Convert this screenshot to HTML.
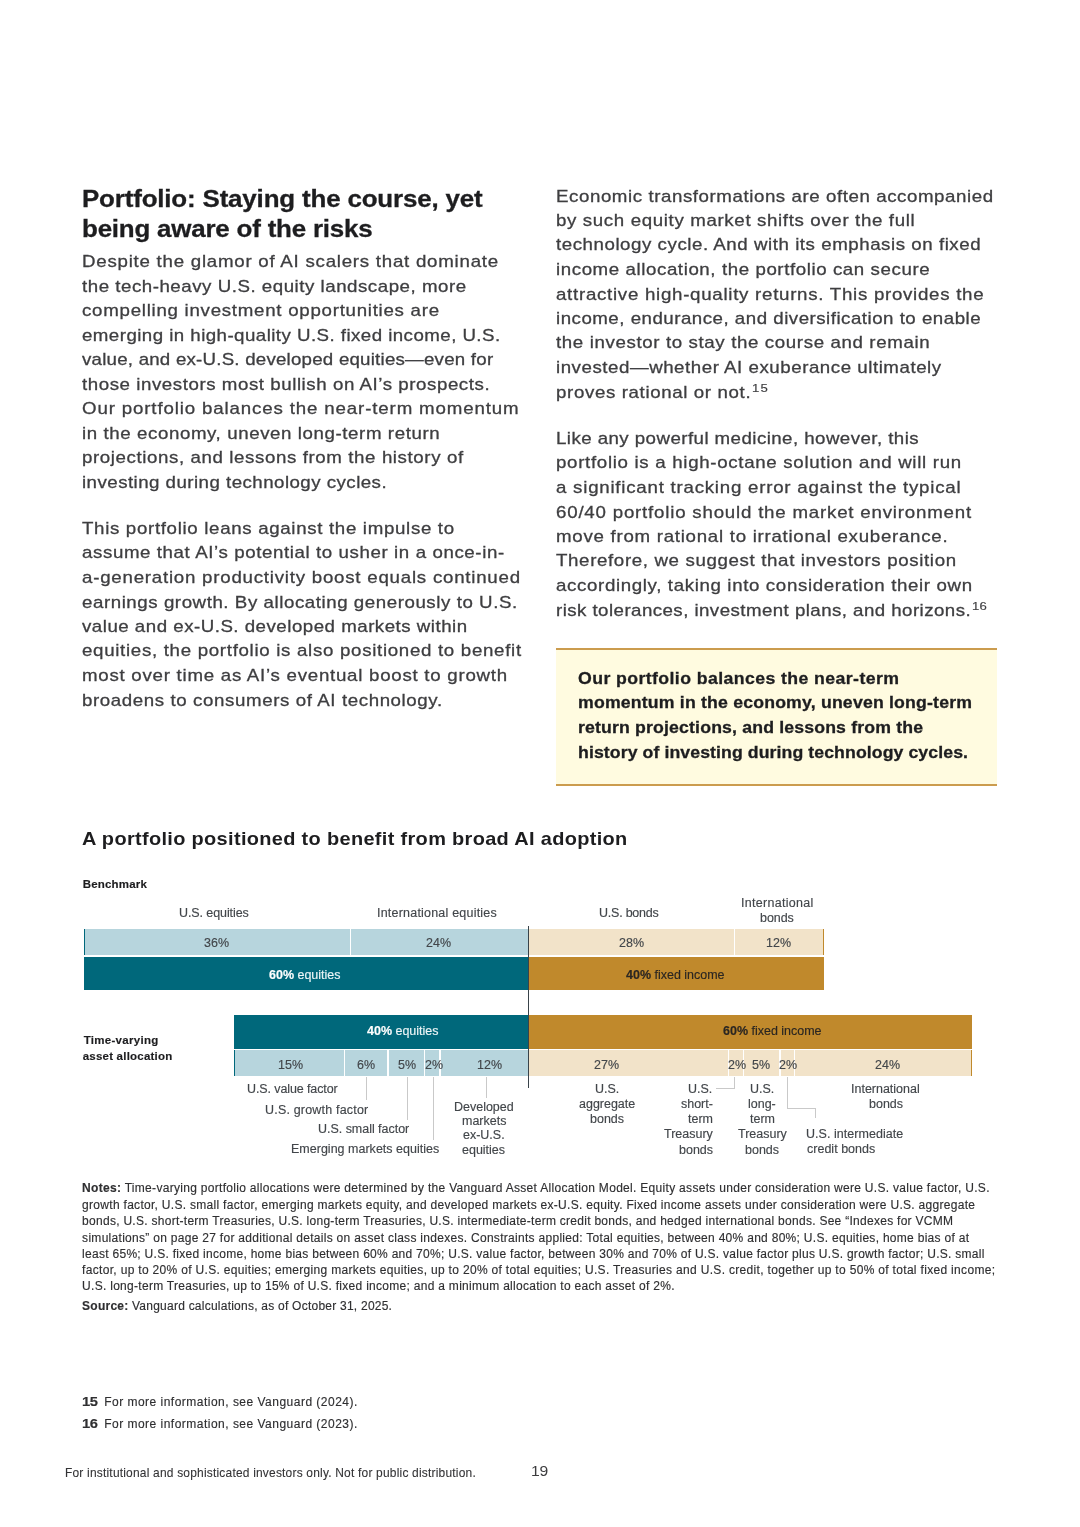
<!DOCTYPE html>
<html lang="en"><head><meta charset="utf-8"><title>Portfolio</title><style>
html,body{margin:0;padding:0;background:#fff}
body{width:1080px;height:1527px;position:relative;overflow:hidden;font-family:"Liberation Sans", sans-serif}
.t{position:absolute;white-space:pre;margin:0;padding:0;transform-origin:0 0}
#pg{position:absolute;left:0;top:0;width:1080px;height:1527px;will-change:transform}
.r{position:absolute}
b{font-weight:700}
.lt{color:#e4f1f3}
</style></head><body><div id="pg">
<div class="r" style="left:556px;top:649px;width:441px;height:135.6px;background:#fffbe0"></div>
<div class="r" style="left:556px;top:648.2px;width:441px;height:1.7px;background:#cb9c4e"></div>
<div class="r" style="left:556px;top:784.0px;width:441px;height:1.7px;background:#cb9c4e"></div>
<div class="r" style="left:83.5px;top:929px;width:266.1px;height:26px;background:#b7d5dd"></div>
<div class="r" style="left:351px;top:929px;width:177.5px;height:26px;background:#b7d5dd"></div>
<div class="r" style="left:83.5px;top:929px;width:1.2px;height:26px;background:#00687b"></div>
<div class="r" style="left:528.5px;top:929px;width:205.5px;height:26px;background:#f2e3c9"></div>
<div class="r" style="left:735.4px;top:929px;width:88.1px;height:26px;background:#f2e3c9"></div>
<div class="r" style="left:822.5px;top:929px;width:1.2px;height:26px;background:#c0892c"></div>
<div class="r" style="left:83.5px;top:956.6px;width:445.0px;height:33.9px;background:#00687b"></div>
<div class="r" style="left:528.5px;top:956.6px;width:295.0px;height:33.9px;background:#c0892c"></div>
<div class="r" style="left:233.5px;top:1014.6px;width:295.0px;height:34.1px;background:#00687b"></div>
<div class="r" style="left:528.5px;top:1014.6px;width:443.5px;height:34.1px;background:#c0892c"></div>
<div class="r" style="left:233.5px;top:1049.8px;width:110.3px;height:26.1px;background:#b7d5dd"></div>
<div class="r" style="left:345.2px;top:1049.8px;width:42.1px;height:26.1px;background:#b7d5dd"></div>
<div class="r" style="left:388.7px;top:1049.8px;width:35.1px;height:26.1px;background:#b7d5dd"></div>
<div class="r" style="left:425.2px;top:1049.8px;width:14.1px;height:26.1px;background:#b7d5dd"></div>
<div class="r" style="left:440.7px;top:1049.8px;width:87.8px;height:26.1px;background:#b7d5dd"></div>
<div class="r" style="left:233.5px;top:1049.8px;width:1.2px;height:26.1px;background:#00687b"></div>
<div class="r" style="left:528.5px;top:1049.8px;width:199.5px;height:26.1px;background:#f2e3c9"></div>
<div class="r" style="left:729.4px;top:1049.8px;width:13.2px;height:26.1px;background:#f2e3c9"></div>
<div class="r" style="left:744.0px;top:1049.8px;width:35.3px;height:26.1px;background:#f2e3c9"></div>
<div class="r" style="left:780.7px;top:1049.8px;width:13.3px;height:26.1px;background:#f2e3c9"></div>
<div class="r" style="left:795.4px;top:1049.8px;width:176.6px;height:26.1px;background:#f2e3c9"></div>
<div class="r" style="left:971px;top:1049.8px;width:1.2px;height:26.1px;background:#c0892c"></div>
<div class="r" style="left:527.9px;top:925.6px;width:1.0px;height:162.6px;background:#39434a"></div>
<div class="r" style="left:366.0px;top:1077px;width:1.0px;height:23px;background:#c9c9c9"></div>
<div class="r" style="left:407.0px;top:1077px;width:1.0px;height:43px;background:#c9c9c9"></div>
<div class="r" style="left:432.5px;top:1077px;width:1.0px;height:63px;background:#c9c9c9"></div>
<div class="r" style="left:486.0px;top:1077px;width:1.0px;height:21px;background:#c9c9c9"></div>
<div class="r" style="left:733.5px;top:1077px;width:1.0px;height:12px;background:#c9c9c9"></div>
<div class="r" style="left:716px;top:1088.0px;width:18.5px;height:1.0px;background:#c9c9c9"></div>
<div class="r" style="left:787.3px;top:1077px;width:1.0px;height:31.5px;background:#c9c9c9"></div>
<div class="r" style="left:787.3px;top:1107.5px;width:28.2px;height:1.0px;background:#c9c9c9"></div>
<div class="r" style="left:814.5px;top:1108px;width:1.0px;height:10px;background:#c9c9c9"></div>
<div class="t" style="left:82.19px;top:183px;font-size:24px;line-height:31px;color:#1d1d1f;font-weight:700;letter-spacing:-0.155px;-webkit-text-stroke:0.3px #1d1d1f;transform:scaleX(1.0800);">Portfolio: Staying the course, yet</div>
<div class="t" style="left:82.19px;top:213px;font-size:24px;line-height:31px;color:#1d1d1f;font-weight:700;letter-spacing:-0.188px;-webkit-text-stroke:0.3px #1d1d1f;transform:scaleX(1.0800);">being aware of the risks</div>
<div class="t" style="left:82.00px;top:251px;font-size:17px;line-height:22px;color:#3e3e40;letter-spacing:0.679px;-webkit-text-stroke:0.3px #3e3e40;transform:scaleX(1.1000);">Despite the glamor of AI scalers that dominate</div>
<div class="t" style="left:82.00px;top:276px;font-size:17px;line-height:22px;color:#3e3e40;letter-spacing:0.473px;-webkit-text-stroke:0.3px #3e3e40;transform:scaleX(1.1000);">the tech-heavy U.S. equity landscape, more</div>
<div class="t" style="left:82.00px;top:300px;font-size:17px;line-height:22px;color:#3e3e40;letter-spacing:0.660px;-webkit-text-stroke:0.3px #3e3e40;transform:scaleX(1.1000);">compelling investment opportunities are</div>
<div class="t" style="left:82.00px;top:325px;font-size:17px;line-height:22px;color:#3e3e40;letter-spacing:0.408px;-webkit-text-stroke:0.3px #3e3e40;transform:scaleX(1.1000);">emerging in high-quality U.S. fixed income, U.S.</div>
<div class="t" style="left:82.00px;top:349px;font-size:17px;line-height:22px;color:#3e3e40;letter-spacing:0.199px;-webkit-text-stroke:0.3px #3e3e40;transform:scaleX(1.1000);">value, and ex-U.S. developed equities—even for</div>
<div class="t" style="left:82.00px;top:374px;font-size:17px;line-height:22px;color:#3e3e40;letter-spacing:0.503px;-webkit-text-stroke:0.3px #3e3e40;transform:scaleX(1.1000);">those investors most bullish on AI’s prospects.</div>
<div class="t" style="left:82.00px;top:398px;font-size:17px;line-height:22px;color:#3e3e40;letter-spacing:0.775px;-webkit-text-stroke:0.3px #3e3e40;transform:scaleX(1.1000);">Our portfolio balances the near-term momentum</div>
<div class="t" style="left:82.00px;top:423px;font-size:17px;line-height:22px;color:#3e3e40;letter-spacing:0.532px;-webkit-text-stroke:0.3px #3e3e40;transform:scaleX(1.1000);">in the economy, uneven long-term return</div>
<div class="t" style="left:82.00px;top:447px;font-size:17px;line-height:22px;color:#3e3e40;letter-spacing:0.542px;-webkit-text-stroke:0.3px #3e3e40;transform:scaleX(1.1000);">projections, and lessons from the history of</div>
<div class="t" style="left:82.00px;top:472px;font-size:17px;line-height:22px;color:#3e3e40;letter-spacing:0.418px;-webkit-text-stroke:0.3px #3e3e40;transform:scaleX(1.1000);">investing during technology cycles.</div>
<div class="t" style="left:82.00px;top:518px;font-size:17px;line-height:22px;color:#3e3e40;letter-spacing:0.607px;-webkit-text-stroke:0.3px #3e3e40;transform:scaleX(1.1000);">This portfolio leans against the impulse to</div>
<div class="t" style="left:82.00px;top:542px;font-size:17px;line-height:22px;color:#3e3e40;letter-spacing:0.540px;-webkit-text-stroke:0.3px #3e3e40;transform:scaleX(1.1000);">assume that AI’s potential to usher in a once-in-</div>
<div class="t" style="left:82.00px;top:567px;font-size:17px;line-height:22px;color:#3e3e40;letter-spacing:0.692px;-webkit-text-stroke:0.3px #3e3e40;transform:scaleX(1.1000);">a-generation productivity boost equals continued</div>
<div class="t" style="left:82.00px;top:592px;font-size:17px;line-height:22px;color:#3e3e40;letter-spacing:0.504px;-webkit-text-stroke:0.3px #3e3e40;transform:scaleX(1.1000);">earnings growth. By allocating generously to U.S.</div>
<div class="t" style="left:82.00px;top:616px;font-size:17px;line-height:22px;color:#3e3e40;letter-spacing:0.449px;-webkit-text-stroke:0.3px #3e3e40;transform:scaleX(1.1000);">value and ex-U.S. developed markets within</div>
<div class="t" style="left:82.00px;top:640px;font-size:17px;line-height:22px;color:#3e3e40;letter-spacing:0.625px;-webkit-text-stroke:0.3px #3e3e40;transform:scaleX(1.1000);">equities, the portfolio is also positioned to benefit</div>
<div class="t" style="left:82.00px;top:665px;font-size:17px;line-height:22px;color:#3e3e40;letter-spacing:0.664px;-webkit-text-stroke:0.3px #3e3e40;transform:scaleX(1.1000);">most over time as AI’s eventual boost to growth</div>
<div class="t" style="left:82.00px;top:690px;font-size:17px;line-height:22px;color:#3e3e40;letter-spacing:0.541px;-webkit-text-stroke:0.3px #3e3e40;transform:scaleX(1.1000);">broadens to consumers of AI technology.</div>
<div class="t" style="left:555.60px;top:186px;font-size:17px;line-height:22px;color:#3e3e40;letter-spacing:0.515px;-webkit-text-stroke:0.3px #3e3e40;transform:scaleX(1.1000);">Economic transformations are often accompanied</div>
<div class="t" style="left:555.60px;top:210px;font-size:17px;line-height:22px;color:#3e3e40;letter-spacing:0.577px;-webkit-text-stroke:0.3px #3e3e40;transform:scaleX(1.1000);">by such equity market shifts over the full</div>
<div class="t" style="left:555.60px;top:234px;font-size:17px;line-height:22px;color:#3e3e40;letter-spacing:0.492px;-webkit-text-stroke:0.3px #3e3e40;transform:scaleX(1.1000);">technology cycle. And with its emphasis on fixed</div>
<div class="t" style="left:555.60px;top:259px;font-size:17px;line-height:22px;color:#3e3e40;letter-spacing:0.527px;-webkit-text-stroke:0.3px #3e3e40;transform:scaleX(1.1000);">income allocation, the portfolio can secure</div>
<div class="t" style="left:555.60px;top:284px;font-size:17px;line-height:22px;color:#3e3e40;letter-spacing:0.651px;-webkit-text-stroke:0.3px #3e3e40;transform:scaleX(1.1000);">attractive high-quality returns. This provides the</div>
<div class="t" style="left:555.60px;top:308px;font-size:17px;line-height:22px;color:#3e3e40;letter-spacing:0.451px;-webkit-text-stroke:0.3px #3e3e40;transform:scaleX(1.1000);">income, endurance, and diversification to enable</div>
<div class="t" style="left:555.60px;top:332px;font-size:17px;line-height:22px;color:#3e3e40;letter-spacing:0.563px;-webkit-text-stroke:0.3px #3e3e40;transform:scaleX(1.1000);">the investor to stay the course and remain</div>
<div class="t" style="left:555.60px;top:357px;font-size:17px;line-height:22px;color:#3e3e40;letter-spacing:0.484px;-webkit-text-stroke:0.3px #3e3e40;transform:scaleX(1.1000);">invested—whether AI exuberance ultimately</div>
<div class="t" style="left:555.60px;top:382px;font-size:17px;line-height:22px;color:#3e3e40;letter-spacing:0.568px;-webkit-text-stroke:0.3px #3e3e40;transform:scaleX(1.1000);">proves rational or not.</div>
<div class="t" style="left:555.60px;top:428px;font-size:17px;line-height:22px;color:#3e3e40;letter-spacing:0.398px;-webkit-text-stroke:0.3px #3e3e40;transform:scaleX(1.1000);">Like any powerful medicine, however, this</div>
<div class="t" style="left:555.60px;top:452px;font-size:17px;line-height:22px;color:#3e3e40;letter-spacing:0.618px;-webkit-text-stroke:0.3px #3e3e40;transform:scaleX(1.1000);">portfolio is a high-octane solution and will run</div>
<div class="t" style="left:555.60px;top:477px;font-size:17px;line-height:22px;color:#3e3e40;letter-spacing:0.689px;-webkit-text-stroke:0.3px #3e3e40;transform:scaleX(1.1000);">a significant tracking error against the typical</div>
<div class="t" style="left:555.60px;top:502px;font-size:17px;line-height:22px;color:#3e3e40;letter-spacing:0.716px;-webkit-text-stroke:0.3px #3e3e40;transform:scaleX(1.1000);">60/40 portfolio should the market environment</div>
<div class="t" style="left:555.60px;top:526px;font-size:17px;line-height:22px;color:#3e3e40;letter-spacing:0.654px;-webkit-text-stroke:0.3px #3e3e40;transform:scaleX(1.1000);">move from rational to irrational exuberance.</div>
<div class="t" style="left:555.60px;top:550px;font-size:17px;line-height:22px;color:#3e3e40;letter-spacing:0.578px;-webkit-text-stroke:0.3px #3e3e40;transform:scaleX(1.1000);">Therefore, we suggest that investors position</div>
<div class="t" style="left:555.60px;top:575px;font-size:17px;line-height:22px;color:#3e3e40;letter-spacing:0.576px;-webkit-text-stroke:0.3px #3e3e40;transform:scaleX(1.1000);">accordingly, taking into consideration their own</div>
<div class="t" style="left:555.60px;top:600px;font-size:17px;line-height:22px;color:#3e3e40;letter-spacing:0.400px;-webkit-text-stroke:0.3px #3e3e40;transform:scaleX(1.1000);">risk tolerances, investment plans, and horizons.</div>
<div class="t" style="left:751.58px;top:381px;font-size:10.5px;line-height:14px;color:#3e3e40;letter-spacing:0.982px;-webkit-text-stroke:0.15px #3e3e40;transform:scaleX(1.2500);">15</div>
<div class="t" style="left:971.58px;top:599px;font-size:10.5px;line-height:14px;color:#3e3e40;letter-spacing:0.183px;-webkit-text-stroke:0.15px #3e3e40;transform:scaleX(1.2500);">16</div>
<div class="t" style="left:577.80px;top:668px;font-size:17px;line-height:22px;color:#1d1d1f;font-weight:700;letter-spacing:0.397px;-webkit-text-stroke:0.3px #1d1d1f;transform:scaleX(1.0400);">Our portfolio balances the near-term</div>
<div class="t" style="left:577.80px;top:692px;font-size:17px;line-height:22px;color:#1d1d1f;font-weight:700;letter-spacing:0.174px;-webkit-text-stroke:0.3px #1d1d1f;transform:scaleX(1.0400);">momentum in the economy, uneven long-term</div>
<div class="t" style="left:577.80px;top:717px;font-size:17px;line-height:22px;color:#1d1d1f;font-weight:700;letter-spacing:0.149px;-webkit-text-stroke:0.3px #1d1d1f;transform:scaleX(1.0400);">return projections, and lessons from the</div>
<div class="t" style="left:577.80px;top:742px;font-size:17px;line-height:22px;color:#1d1d1f;font-weight:700;letter-spacing:0.083px;-webkit-text-stroke:0.3px #1d1d1f;transform:scaleX(1.0400);">history of investing during technology cycles.</div>
<div class="t" style="left:82.10px;top:826px;font-size:19px;line-height:25px;color:#1d1d1f;font-weight:700;letter-spacing:0.314px;transform:scaleX(1.0500);">A portfolio positioned to benefit from broad AI adoption</div>
<div class="t" style="left:82.69px;top:877px;font-size:11.5px;line-height:15px;color:#1d1d1f;font-weight:700;letter-spacing:0.184px;-webkit-text-stroke:0.15px #1d1d1f;">Benchmark</div>
<div class="t" style="left:178.63px;top:905px;font-size:12px;line-height:16px;color:#42464a;letter-spacing:-0.082px;-webkit-text-stroke:0.15px #42464a;transform:scaleX(1.0400);">U.S. equities</div>
<div class="t" style="left:376.63px;top:905px;font-size:12px;line-height:16px;color:#42464a;letter-spacing:0.209px;-webkit-text-stroke:0.15px #42464a;transform:scaleX(1.0400);">International equities</div>
<div class="t" style="left:599.13px;top:905px;font-size:12px;line-height:16px;color:#42464a;letter-spacing:-0.214px;-webkit-text-stroke:0.15px #42464a;transform:scaleX(1.0400);">U.S. bonds</div>
<div class="t" style="left:741.13px;top:895px;font-size:12px;line-height:16px;color:#42464a;letter-spacing:0.285px;-webkit-text-stroke:0.15px #42464a;transform:scaleX(1.0400);">International</div>
<div class="t" style="left:760.13px;top:910px;font-size:12px;line-height:16px;color:#42464a;letter-spacing:-0.063px;-webkit-text-stroke:0.15px #42464a;transform:scaleX(1.0400);">bonds</div>
<div class="t" style="left:204.00px;top:935px;font-size:12px;line-height:16px;color:#42464a;-webkit-text-stroke:0.15px #42464a;transform:scaleX(1.0400);">36%</div>
<div class="t" style="left:426.00px;top:935px;font-size:12px;line-height:16px;color:#42464a;-webkit-text-stroke:0.15px #42464a;transform:scaleX(1.0400);">24%</div>
<div class="t" style="left:618.50px;top:935px;font-size:12px;line-height:16px;color:#42464a;-webkit-text-stroke:0.15px #42464a;transform:scaleX(1.0400);">28%</div>
<div class="t" style="left:766.20px;top:935px;font-size:12px;line-height:16px;color:#42464a;-webkit-text-stroke:0.15px #42464a;transform:scaleX(1.0400);">12%</div>
<div class="t" style="left:269.46px;top:967px;font-size:12px;line-height:16px;color:#ffffff;-webkit-text-stroke:0.15px #ffffff;transform:scaleX(1.0400);"><b>60%</b><span class="lt"> equities</span></div>
<div class="t" style="left:626.24px;top:967px;font-size:12px;line-height:16px;color:#2a2622;-webkit-text-stroke:0.15px #2a2622;transform:scaleX(1.0400);"><b>40%</b> fixed income</div>
<div class="t" style="left:367.06px;top:1023px;font-size:12px;line-height:16px;color:#ffffff;-webkit-text-stroke:0.15px #ffffff;transform:scaleX(1.0400);"><b>40%</b><span class="lt"> equities</span></div>
<div class="t" style="left:723.24px;top:1023px;font-size:12px;line-height:16px;color:#2a2622;-webkit-text-stroke:0.15px #2a2622;transform:scaleX(1.0400);"><b>60%</b> fixed income</div>
<div class="t" style="left:83.69px;top:1033px;font-size:11.5px;line-height:15px;color:#1d1d1f;font-weight:700;letter-spacing:0.294px;-webkit-text-stroke:0.15px #1d1d1f;">Time-varying</div>
<div class="t" style="left:82.69px;top:1049px;font-size:11.5px;line-height:15px;color:#1d1d1f;font-weight:700;letter-spacing:0.221px;-webkit-text-stroke:0.15px #1d1d1f;">asset allocation</div>
<div class="t" style="left:277.80px;top:1057px;font-size:12px;line-height:16px;color:#42464a;-webkit-text-stroke:0.15px #42464a;transform:scaleX(1.0400);">15%</div>
<div class="t" style="left:357.28px;top:1057px;font-size:12px;line-height:16px;color:#42464a;-webkit-text-stroke:0.15px #42464a;transform:scaleX(1.0400);">6%</div>
<div class="t" style="left:397.98px;top:1057px;font-size:12px;line-height:16px;color:#42464a;-webkit-text-stroke:0.15px #42464a;transform:scaleX(1.0400);">5%</div>
<div class="t" style="left:424.78px;top:1057px;font-size:12px;line-height:16px;color:#42464a;-webkit-text-stroke:0.15px #42464a;transform:scaleX(1.0400);">2%</div>
<div class="t" style="left:476.50px;top:1057px;font-size:12px;line-height:16px;color:#42464a;-webkit-text-stroke:0.15px #42464a;transform:scaleX(1.0400);">12%</div>
<div class="t" style="left:594.30px;top:1057px;font-size:12px;line-height:16px;color:#42464a;-webkit-text-stroke:0.15px #42464a;transform:scaleX(1.0400);">27%</div>
<div class="t" style="left:727.98px;top:1057px;font-size:12px;line-height:16px;color:#42464a;-webkit-text-stroke:0.15px #42464a;transform:scaleX(1.0400);">2%</div>
<div class="t" style="left:752.48px;top:1057px;font-size:12px;line-height:16px;color:#42464a;-webkit-text-stroke:0.15px #42464a;transform:scaleX(1.0400);">5%</div>
<div class="t" style="left:779.48px;top:1057px;font-size:12px;line-height:16px;color:#42464a;-webkit-text-stroke:0.15px #42464a;transform:scaleX(1.0400);">2%</div>
<div class="t" style="left:875.30px;top:1057px;font-size:12px;line-height:16px;color:#42464a;-webkit-text-stroke:0.15px #42464a;transform:scaleX(1.0400);">24%</div>
<div class="t" style="left:246.63px;top:1081px;font-size:12px;line-height:16px;color:#42464a;letter-spacing:-0.091px;-webkit-text-stroke:0.15px #42464a;transform:scaleX(1.0400);">U.S. value factor</div>
<div class="t" style="left:265.13px;top:1102px;font-size:12px;line-height:16px;color:#42464a;letter-spacing:0.190px;-webkit-text-stroke:0.15px #42464a;transform:scaleX(1.0400);">U.S. growth factor</div>
<div class="t" style="left:317.63px;top:1121px;font-size:12px;line-height:16px;color:#42464a;letter-spacing:-0.018px;-webkit-text-stroke:0.15px #42464a;transform:scaleX(1.0400);">U.S. small factor</div>
<div class="t" style="left:290.63px;top:1141px;font-size:12px;line-height:16px;color:#42464a;letter-spacing:0.020px;-webkit-text-stroke:0.15px #42464a;transform:scaleX(1.0400);">Emerging markets equities</div>
<div class="t" style="left:453.97px;top:1099px;font-size:12px;line-height:16px;color:#42464a;-webkit-text-stroke:0.15px #42464a;transform:scaleX(1.0400);">Developed</div>
<div class="t" style="left:461.60px;top:1113px;font-size:12px;line-height:16px;color:#42464a;-webkit-text-stroke:0.15px #42464a;transform:scaleX(1.0400);">markets</div>
<div class="t" style="left:462.99px;top:1127px;font-size:12px;line-height:16px;color:#42464a;-webkit-text-stroke:0.15px #42464a;transform:scaleX(1.0400);">ex-U.S.</div>
<div class="t" style="left:462.29px;top:1142px;font-size:12px;line-height:16px;color:#42464a;-webkit-text-stroke:0.15px #42464a;transform:scaleX(1.0400);">equities</div>
<div class="t" style="left:594.66px;top:1081px;font-size:12px;line-height:16px;color:#42464a;-webkit-text-stroke:0.15px #42464a;transform:scaleX(1.0400);">U.S.</div>
<div class="t" style="left:578.70px;top:1096px;font-size:12px;line-height:16px;color:#42464a;-webkit-text-stroke:0.15px #42464a;transform:scaleX(1.0400);">aggregate</div>
<div class="t" style="left:589.79px;top:1111px;font-size:12px;line-height:16px;color:#42464a;-webkit-text-stroke:0.15px #42464a;transform:scaleX(1.0400);">bonds</div>
<div class="t" style="left:688.32px;top:1081px;font-size:12px;line-height:16px;color:#42464a;-webkit-text-stroke:0.15px #42464a;transform:scaleX(1.0400);">U.S.</div>
<div class="t" style="left:680.69px;top:1096px;font-size:12px;line-height:16px;color:#42464a;-webkit-text-stroke:0.15px #42464a;transform:scaleX(1.0400);">short-</div>
<div class="t" style="left:687.64px;top:1111px;font-size:12px;line-height:16px;color:#42464a;-webkit-text-stroke:0.15px #42464a;transform:scaleX(1.0400);">term</div>
<div class="t" style="left:663.82px;top:1126px;font-size:12px;line-height:16px;color:#42464a;-webkit-text-stroke:0.15px #42464a;transform:scaleX(1.0400);">Treasury</div>
<div class="t" style="left:678.59px;top:1142px;font-size:12px;line-height:16px;color:#42464a;-webkit-text-stroke:0.15px #42464a;transform:scaleX(1.0400);">bonds</div>
<div class="t" style="left:750.06px;top:1081px;font-size:12px;line-height:16px;color:#42464a;-webkit-text-stroke:0.15px #42464a;transform:scaleX(1.0400);">U.S.</div>
<div class="t" style="left:748.32px;top:1096px;font-size:12px;line-height:16px;color:#42464a;-webkit-text-stroke:0.15px #42464a;transform:scaleX(1.0400);">long-</div>
<div class="t" style="left:749.72px;top:1111px;font-size:12px;line-height:16px;color:#42464a;-webkit-text-stroke:0.15px #42464a;transform:scaleX(1.0400);">term</div>
<div class="t" style="left:737.81px;top:1126px;font-size:12px;line-height:16px;color:#42464a;-webkit-text-stroke:0.15px #42464a;transform:scaleX(1.0400);">Treasury</div>
<div class="t" style="left:745.19px;top:1142px;font-size:12px;line-height:16px;color:#42464a;-webkit-text-stroke:0.15px #42464a;transform:scaleX(1.0400);">bonds</div>
<div class="t" style="left:806.13px;top:1126px;font-size:12px;line-height:16px;color:#42464a;letter-spacing:0.049px;-webkit-text-stroke:0.15px #42464a;transform:scaleX(1.0400);">U.S. intermediate</div>
<div class="t" style="left:807.13px;top:1141px;font-size:12px;line-height:16px;color:#42464a;letter-spacing:0.022px;-webkit-text-stroke:0.15px #42464a;transform:scaleX(1.0400);">credit bonds</div>
<div class="t" style="left:851.46px;top:1081px;font-size:12px;line-height:16px;color:#42464a;-webkit-text-stroke:0.15px #42464a;transform:scaleX(1.0400);">International</div>
<div class="t" style="left:868.79px;top:1096px;font-size:12px;line-height:16px;color:#42464a;-webkit-text-stroke:0.15px #42464a;transform:scaleX(1.0400);">bonds</div>
<div class="t" style="left:82.10px;top:1180px;font-size:12px;line-height:16px;color:#2f2f31;letter-spacing:0.301px;-webkit-text-stroke:0.15px #2f2f31;"><b>Notes:</b> Time-varying portfolio allocations were determined by the Vanguard Asset Allocation Model. Equity assets under consideration were U.S. value factor, U.S.</div>
<div class="t" style="left:82.10px;top:1197px;font-size:12px;line-height:16px;color:#2f2f31;letter-spacing:0.294px;-webkit-text-stroke:0.15px #2f2f31;">growth factor, U.S. small factor, emerging markets equity, and developed markets ex-U.S. equity. Fixed income assets under consideration were U.S. aggregate</div>
<div class="t" style="left:82.10px;top:1213px;font-size:12px;line-height:16px;color:#2f2f31;letter-spacing:0.277px;-webkit-text-stroke:0.15px #2f2f31;">bonds, U.S. short-term Treasuries, U.S. long-term Treasuries, U.S. intermediate-term credit bonds, and hedged international bonds. See “Indexes for VCMM</div>
<div class="t" style="left:82.10px;top:1230px;font-size:12px;line-height:16px;color:#2f2f31;letter-spacing:0.291px;-webkit-text-stroke:0.15px #2f2f31;">simulations” on page 27 for additional details on asset class indexes. Constraints applied: Total equities, between 40% and 80%; U.S. equities, home bias of at</div>
<div class="t" style="left:82.10px;top:1246px;font-size:12px;line-height:16px;color:#2f2f31;letter-spacing:0.283px;-webkit-text-stroke:0.15px #2f2f31;">least 65%; U.S. fixed income, home bias between 60% and 70%; U.S. value factor, between 30% and 70% of U.S. value factor plus U.S. growth factor; U.S. small</div>
<div class="t" style="left:82.10px;top:1262px;font-size:12px;line-height:16px;color:#2f2f31;letter-spacing:0.318px;-webkit-text-stroke:0.15px #2f2f31;">factor, up to 20% of U.S. equities; emerging markets equities, up to 20% of total equities; U.S. Treasuries and U.S. credit, together up to 50% of total fixed income;</div>
<div class="t" style="left:82.10px;top:1278px;font-size:12px;line-height:16px;color:#2f2f31;letter-spacing:0.286px;-webkit-text-stroke:0.15px #2f2f31;">U.S. long-term Treasuries, up to 15% of U.S. fixed income; and a minimum allocation to each asset of 2%.</div>
<div class="t" style="left:82.10px;top:1298px;font-size:12px;line-height:16px;color:#2f2f31;letter-spacing:0.237px;-webkit-text-stroke:0.15px #2f2f31;"><b>Source:</b> Vanguard calculations, as of October 31, 2025.</div>
<div class="t" style="left:82.47px;top:1394px;font-size:12.3px;line-height:16px;color:#2f2f31;font-weight:700;letter-spacing:-0.299px;-webkit-text-stroke:0.15px #2f2f31;transform:scaleX(1.2000);">15</div>
<div class="t" style="left:104.16px;top:1394px;font-size:12px;line-height:16px;color:#2f2f31;letter-spacing:0.486px;-webkit-text-stroke:0.15px #2f2f31;">For more information, see Vanguard (2024).</div>
<div class="t" style="left:82.47px;top:1416px;font-size:12.3px;line-height:16px;color:#2f2f31;font-weight:700;letter-spacing:-0.299px;-webkit-text-stroke:0.15px #2f2f31;transform:scaleX(1.2000);">16</div>
<div class="t" style="left:104.16px;top:1416px;font-size:12px;line-height:16px;color:#2f2f31;letter-spacing:0.486px;-webkit-text-stroke:0.15px #2f2f31;">For more information, see Vanguard (2023).</div>
<div class="t" style="left:64.66px;top:1465px;font-size:12.6px;line-height:16px;color:#333335;letter-spacing:0.212px;-webkit-text-stroke:0.1px #333335;transform:scaleX(0.9500);">For institutional and sophisticated investors only. Not for public distribution.</div>
<div class="t" style="left:530.90px;top:1462px;font-size:14px;line-height:18px;color:#3c3c3e;letter-spacing:-0.225px;transform:scaleX(1.1200);">19</div>
</div></body></html>
